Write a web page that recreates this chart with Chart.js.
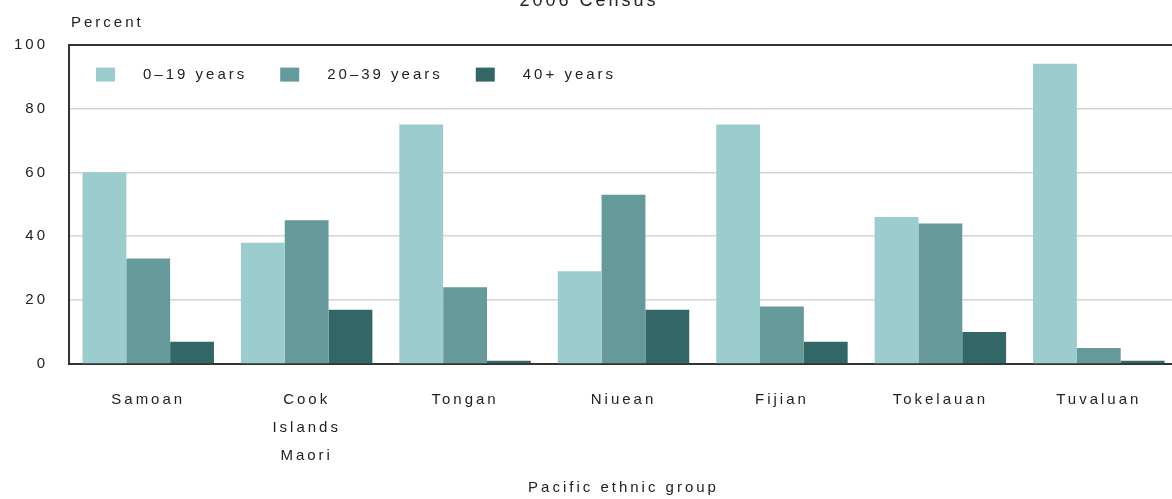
<!DOCTYPE html>
<html>
<head>
<meta charset="utf-8">
<script src="https://cdn.jsdelivr.net/npm/chart.js@4"></script>
<style>
  html, body { margin: 0; padding: 0; background: #fff; overflow: hidden; }
  #wrap { position: relative; width: 1172px; height: 499px; overflow: hidden; }
  #chart { position: absolute; left: 0; top: -20px; }
</style>
</head>
<body>
<div id="wrap"><canvas id="chart" width="1180" height="519"></canvas></div>
<script>
const groups = ["Samoan", ["Cook", "Islands", "Maori"], "Tongan", "Niuean", "Fijian", "Tokelauan", "Tuvaluan"];
const young = [60, 38, 75, 29, 75, 46, 94];     // 0–19 years
const middle = [33, 45, 24, 53, 18, 44, 5];     // 20–39 years
const older = [7, 17, 1, 17, 7, 10, 1];         // 40+ years
const seriesNames = ["0\u201319 years", "20\u201339 years", "40+ years"];
const colors = ["#9ccdce", "#669999", "#336666"];
const yTicks = [0, 20, 40, 60, 80, 100];

const font = '"Liberation Sans", Arial, sans-serif';
const spacing = "3px";

// all text in the original is widely spaced
const letterSpacing = {
    id: "letterSpacing",
    beforeLayout(chart) { chart.ctx.letterSpacing = spacing; },
    beforeDraw(chart) { chart.ctx.letterSpacing = spacing; }
};

// legend sits inside the plot box, plus the "Percent" label above the axis
const insideLegend = {
    id: "insideLegend",
    afterDraw(chart) {
        const { ctx, chartArea } = chart;
        ctx.save();
        ctx.letterSpacing = spacing;
        ctx.font = "15px " + font;
        ctx.textBaseline = "middle";
        ctx.textAlign = "left";
        ctx.fillStyle = "#222";
        ctx.fillText("Percent", chartArea.left + 2, chartArea.top - 22);

        let x = chartArea.left + 27;
        const y = chartArea.top + 30;
        chart.data.datasets.forEach(ds => {
            ctx.fillStyle = ds.backgroundColor;
            ctx.fillRect(x, y - 7, 19, 14);
            x += 47;
            ctx.fillStyle = "#222";
            ctx.fillText(ds.label, x, y);
            x += ctx.measureText(ds.label).width + 33;
        });
        ctx.restore();
    }
};

new Chart(document.getElementById("chart"), {
    type: "bar",
    plugins: [letterSpacing, insideLegend],
    data: {
        labels: groups,
        datasets: [
            { label: seriesNames[0], data: young, backgroundColor: colors[0] },
            { label: seriesNames[1], data: middle, backgroundColor: colors[1] },
            { label: seriesNames[2], data: older, backgroundColor: colors[2] },
        ],
    },
    options: {
        responsive: false,
        animation: false,
        layout: { padding: { left: 0, right: 2, top: 0, bottom: 0 } },
        datasets: {
            bar: { categoryPercentage: 0.83, barPercentage: 1.0, borderWidth: 0 }
        },
        plugins: {
            legend: { display: false },
            tooltip: { enabled: false },
            title: {
                display: true,
                text: "2006 Census",
                color: "#222",
                font: { family: font, size: 18, weight: "normal" },
                padding: { top: 10, bottom: 33 },
            },
        },
        scales: {
            x: {
                afterFit(scale) { scale.height = 135; },
                grid: { display: false, drawTicks: false },
                border: { display: true, color: "#333", width: 2 },
                ticks: {
                    color: "#222",
                    padding: 22,
                    maxRotation: 0,
                    autoSkip: false,
                    font: { family: font, size: 15, lineHeight: "28px" },
                },
                title: {
                    display: true,
                    text: "Pacific ethnic group",
                    color: "#222",
                    font: { family: font, size: 15 },
                    padding: { top: 9, bottom: 2 },
                },
            },
            y: {
                min: yTicks[0],
                max: yTicks[yTicks.length - 1],
                afterFit(scale) { scale.width = 69; },
                afterBuildTicks(scale) { scale.ticks = yTicks.map(v => ({ value: v })); },
                border: { display: true, color: "#333", width: 2 },
                grid: {
                    drawTicks: false,
                    color: ctx => ctx.tick.value === 100 ? "#333" : (ctx.tick.value === 0 ? "rgba(0,0,0,0)" : "#d4d4d4"),
                    lineWidth: ctx => ctx.tick.value === 100 ? 2 : 1.5,
                },
                ticks: {
                    color: "#222",
                    padding: 21,
                    font: { family: font, size: 15 },
                },
            },
        },
    },
});
</script>
</body>
</html>
